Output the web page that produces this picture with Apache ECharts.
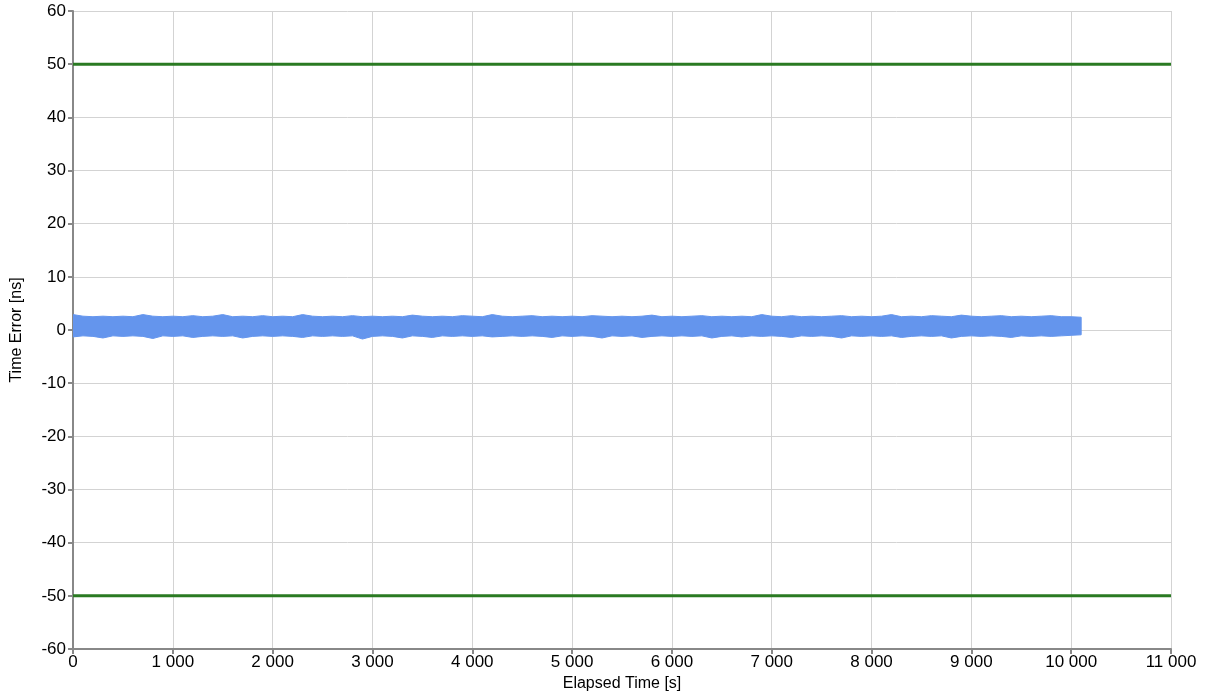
<!DOCTYPE html>
<html><head><meta charset="utf-8">
<script src="https://cdn.jsdelivr.net/npm/echarts@6/dist/echarts.min.js"></script>
<style>html,body{margin:0;padding:0;background:#fff}#c{width:1206px;height:699px}</style>
</head><body><div id="c"></div>
<script>
// elapsed time sample spacing (s)
var timeStep = 100;
// upper envelope of time error band (ns), one per 100 s from 0 to 10100
var upperTE = [
2.9,2.6,2.5,2.6,2.5,2.6,2.5,2.9,2.6,2.5,
2.6,2.5,2.7,2.5,2.6,2.9,2.5,2.6,2.5,2.7,
2.5,2.6,2.5,2.9,2.6,2.5,2.6,2.5,2.7,2.5,
2.6,2.5,2.6,2.5,2.8,2.6,2.5,2.6,2.5,2.7,
2.6,2.5,2.9,2.6,2.5,2.6,2.7,2.5,2.6,2.5,
2.6,2.5,2.7,2.6,2.5,2.6,2.5,2.6,2.8,2.5,
2.6,2.5,2.6,2.7,2.5,2.6,2.5,2.6,2.5,2.9,
2.6,2.5,2.7,2.5,2.6,2.5,2.6,2.7,2.5,2.6,
2.5,2.6,2.9,2.5,2.6,2.5,2.7,2.6,2.5,2.8,
2.6,2.5,2.6,2.7,2.5,2.6,2.5,2.6,2.7,2.5,
2.5,2.4
];
// lower envelope of time error band (ns)
var lowerTE = [
-1.3,-1.1,-1.2,-1.5,-1.1,-1.2,-1.1,-1.2,-1.6,-1.1,
-1.2,-1.1,-1.4,-1.2,-1.1,-1.2,-1.1,-1.5,-1.2,-1.1,
-1.2,-1.1,-1.2,-1.4,-1.1,-1.2,-1.1,-1.2,-1.1,-1.7,
-1.2,-1.1,-1.2,-1.5,-1.1,-1.2,-1.4,-1.1,-1.2,-1.1,
-1.2,-1.1,-1.3,-1.2,-1.1,-1.2,-1.1,-1.2,-1.4,-1.1,
-1.2,-1.1,-1.2,-1.5,-1.1,-1.2,-1.1,-1.4,-1.2,-1.1,
-1.2,-1.1,-1.2,-1.1,-1.5,-1.2,-1.1,-1.3,-1.1,-1.2,
-1.1,-1.2,-1.4,-1.1,-1.2,-1.1,-1.2,-1.5,-1.1,-1.2,
-1.1,-1.2,-1.1,-1.4,-1.2,-1.1,-1.2,-1.1,-1.5,-1.2,
-1.1,-1.2,-1.1,-1.2,-1.4,-1.1,-1.2,-1.1,-1.2,-1.1,
-1.0,-0.9
];
// limit lines (ns)
var upperLimit = 50;
var lowerLimit = -50;
var xMin = 0, xMax = 11000, xInterval = 1000;
var yMin = -60, yMax = 60, yInterval = 10;

var bandData = upperTE.map(function(v,i){return [i*timeStep, v, lowerTE[i]];});

function fmtThousands(v){
  return String(v).replace(/\B(?=(\d{3})+(?!\d))/g, ' ');
}

function renderBand(params, api){
  if (params.dataIndex !== 0) return null;
  var top = [], bot = [];
  for (var i = 0; i < bandData.length; i++){
    top.push(api.coord([bandData[i][0], bandData[i][1]]));
    bot.push(api.coord([bandData[i][0], bandData[i][2]]));
  }
  var pts = top.concat(bot.reverse());
  return {type:'polygon', shape:{points:pts},
    style:{fill:'#6495ED', stroke:'#6495ED', lineWidth:1}};
}

var chart = echarts.init(document.getElementById('c'), null, {renderer:'canvas'});
var font = 'Liberation Sans, Arial, sans-serif';
chart.setOption({
  animation:false,
  grid:{left:73,right:35,top:11,bottom:50,containLabel:false},
  xAxis:{
    type:'value',min:xMin,max:xMax,interval:xInterval,
    name:'Elapsed Time [s]',nameLocation:'middle',nameGap:27,
    nameTextStyle:{color:'#000',fontSize:16,fontFamily:font},
    axisLine:{onZero:false,lineStyle:{color:'#888',width:2}},
    axisTick:{show:true,length:5,lineStyle:{color:'#888',width:2}},
    axisLabel:{color:'#000',fontSize:17,fontFamily:font,margin:5,formatter:fmtThousands},
    splitLine:{show:true,lineStyle:{color:'#d3d3d3',width:1}}
  },
  yAxis:{
    type:'value',min:yMin,max:yMax,interval:yInterval,
    name:'Time Error [ns]',nameLocation:'middle',nameGap:48,nameRotate:90,
    nameTextStyle:{color:'#000',fontSize:16,fontFamily:font},
    axisLine:{show:true,onZero:false,lineStyle:{color:'#888',width:2}},
    axisTick:{show:true,length:5,lineStyle:{color:'#888',width:2}},
    axisLabel:{color:'#000',fontSize:17,fontFamily:font,margin:7},
    splitLine:{show:true,lineStyle:{color:'#d3d3d3',width:1}}
  },
  series:[
    {type:'custom',data:bandData,renderItem:renderBand,silent:true,z:3,
     encode:{x:0,y:[1,2]},clip:true},
    {type:'line',data:[[xMin,upperLimit],[xMax,upperLimit]],symbol:'none',
     lineStyle:{width:3,color:'#2a7a22'},z:4,silent:true},
    {type:'line',data:[[xMin,lowerLimit],[xMax,lowerLimit]],symbol:'none',
     lineStyle:{width:3,color:'#2a7a22'},z:4,silent:true}
  ]
});
</script></body></html>
